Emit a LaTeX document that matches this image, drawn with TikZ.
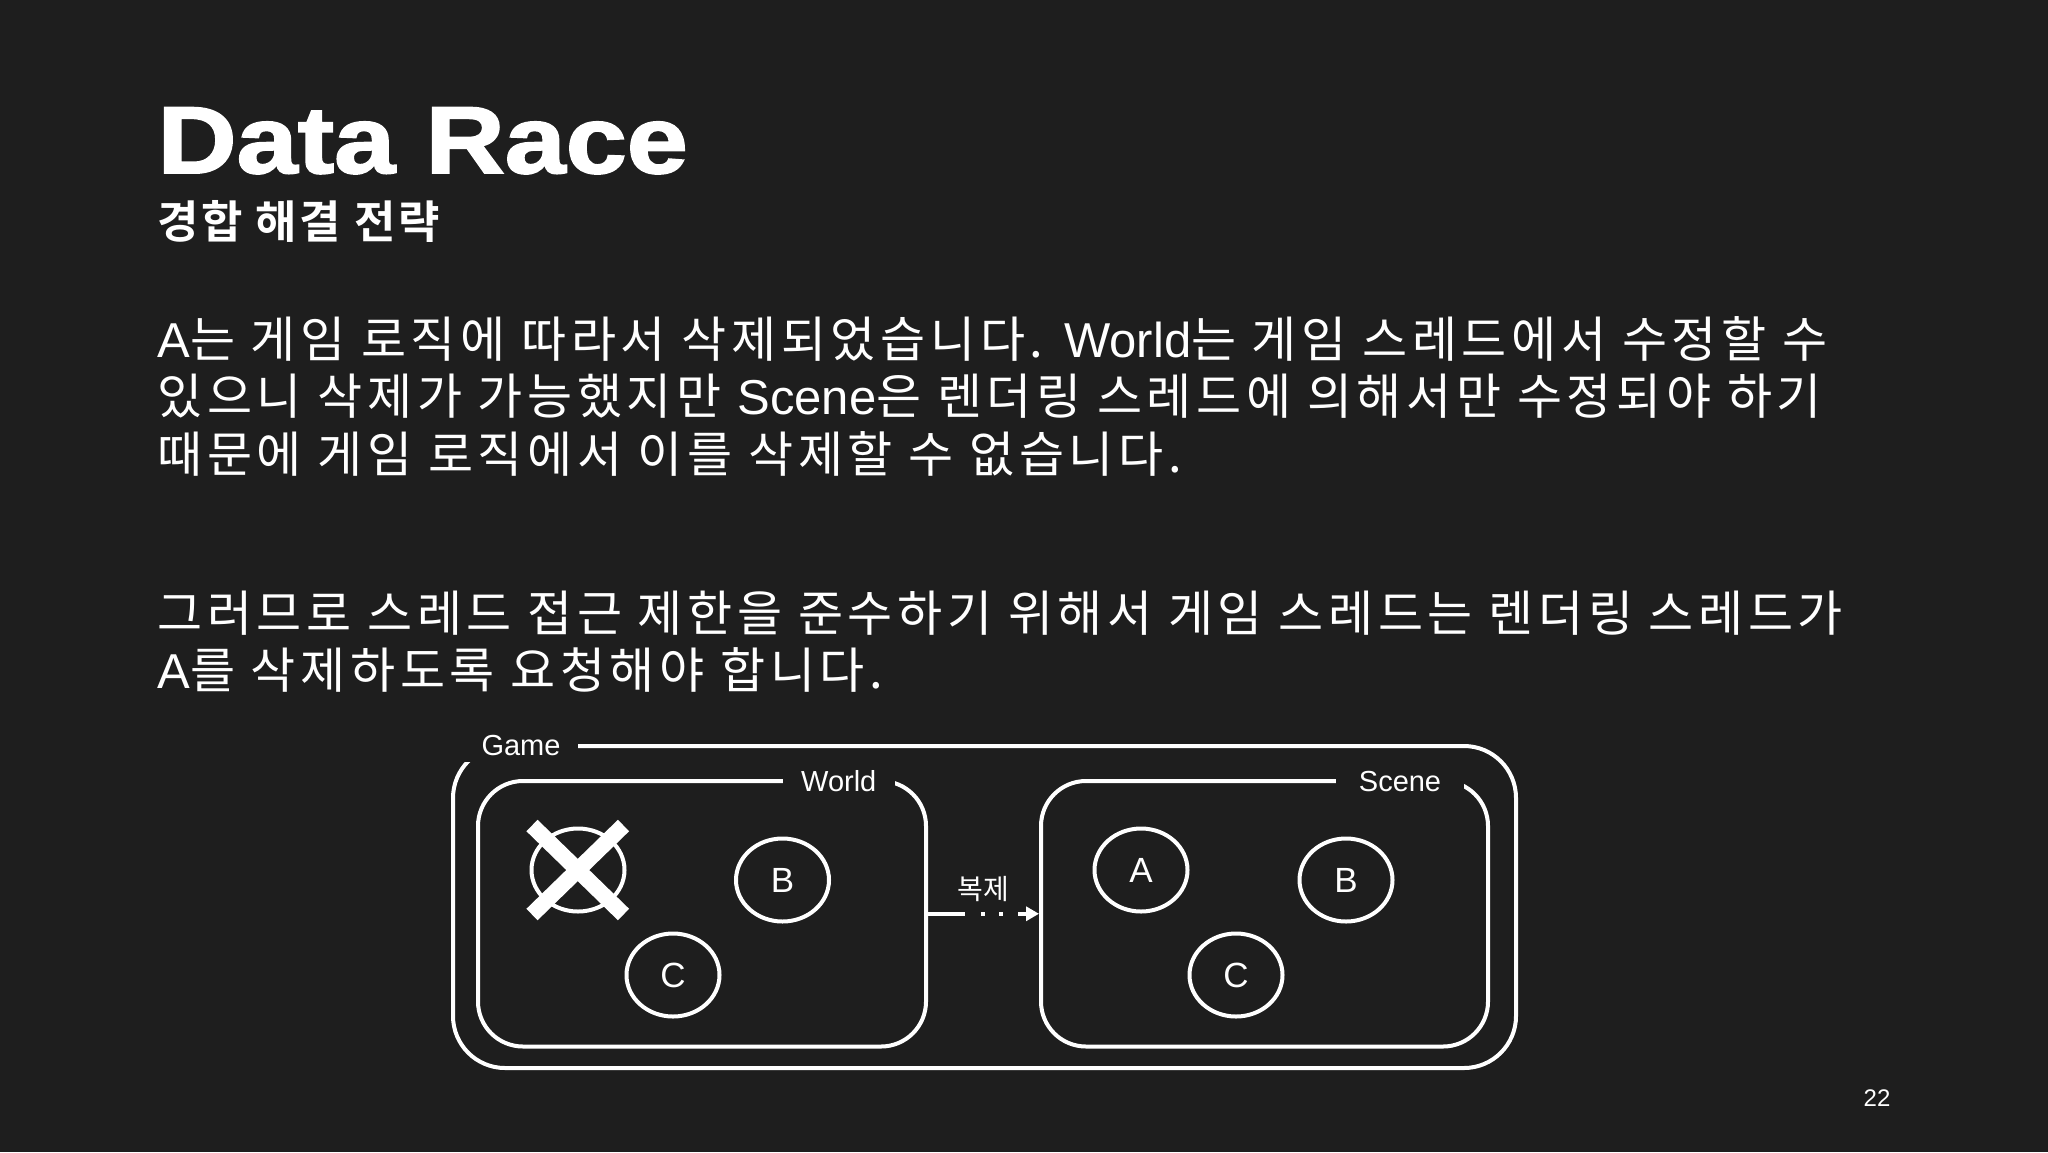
\documentclass[tikz,border=0pt]{standalone}
\usepackage{fontspec}
\setmainfont{Liberation Sans}
\newfontfamily\krfont{Noto Sans CJK KR}[LetterSpace=9.5,BoldFont={Noto Sans CJK KR Bold}]
\newfontfamily\krhead{Noto Sans CJK KR Bold}[LetterSpace=6]
\newfontfamily\krplain{Noto Sans CJK KR}
\newfontfamily\titlefont{Liberation Sans Bold}[FakeStretch=1.155,FakeBold=2]
\newcommand\eng[1]{{\rmfamily #1}}
\usetikzlibrary{shapes.geometric, arrows.meta, fit}

\definecolor{bg}{RGB}{30,30,30}
\definecolor{ink}{RGB}{255,255,255}

\tikzset{
  heading/.style   = {anchor=base west, inner sep=0, text=ink,
                      font=\titlefont\fontsize{47.5pt}{50pt}\selectfont},
  subhead/.style   = {anchor=base west, inner sep=0, text=ink,
                      font=\krhead\fontsize{22.5pt}{26pt}\selectfont},
  body/.style      = {anchor=base west, inner sep=0, text=ink,
                      font=\krfont\fontsize{24.5pt}{28.5pt}\selectfont},
  subbox/.style    = {draw=ink, line width=2pt, rounded corners=22.5pt, inner sep=0},
  gamebox/.style   = {subbox, rounded corners=26pt},
  tag/.style       = {fill=bg, text=ink, inner sep=0, minimum height=16pt,
                      font=\fontsize{14.5pt}{16pt}\selectfont},
  obj/.style       = {ellipse, draw=ink, line width=2pt, inner sep=0,
                      minimum width=46.5pt, minimum height=41.5pt, text=ink,
                      font=\fontsize{17.5pt}{20pt}\selectfont},
  xmark/.style     = {draw=ink, line width=8pt},
  copyarrow/.style = {draw=ink, line width=2pt, -{Triangle[length=6.5pt,width=7pt]},
                      dash pattern=on 18.5pt off 8pt on 2pt off 7pt on 2pt off 7.5pt on 20pt}
}

\begin{document}
\begin{tikzpicture}[x=0.5pt, y=-0.5pt]
  \fill[bg] (0,0) rectangle (2048,1152);

  \node[heading] (title) at (157,173) {Data Race};
  \node[subhead] (subtitle) at (157,238) {경합 해결 전략};

  % body text, one node per line
  \foreach \n/\yy/\txt in {
      1/357/{\eng{A}는 게임 로직에 따라서 삭제되었습니다. \eng{World}는 게임 스레드에서 수정할 수},
      2/414.5/{있으니 삭제가 가능했지만 \eng{Scene}은 렌더링 스레드에 의해서만 수정되야 하기},
      3/472/{때문에 게임 로직에서 이를 삭제할 수 없습니다.},
      4/631/{그러므로 스레드 접근 제한을 준수하기 위해서 게임 스레드는 렌더링 스레드가},
      5/688/{\eng{A}를 삭제하도록 요청해야 합니다.}}
    \node[body] (line\n) at (157,\yy) {\txt};

  % diagram
  \node[gamebox, fit={(453,746) (1516,1068)}] (game) {};
  \node[subbox, fit={(478,781) (926,1046.5)}] (world) {};
  \node[subbox, fit={(1041,781) (1488,1046.5)}] (scene) {};

  \node[tag, minimum width=57pt] (gametag) at (521,746) {Game};
  \node[tag, minimum width=56.25pt] (worldtag) at (838.75,781) {World};
  \node[tag, minimum width=64pt] (scenetag) at (1400,781) {Scene};

  \node[obj] (wa) at (578,870) {};
  \node[obj] (wb) at (782.5,880) {B};
  \node[obj] (wc) at (673,975) {C};
  \draw[xmark] ([shift={(-46,-44.5)}]wa.center) -- ([shift={(45.5,44.5)}]wa.center);
  \draw[xmark] ([shift={(-46,44.5)}]wa.center) -- ([shift={(45.5,-44.5)}]wa.center);

  \node[obj] (sa) at (1141,870) {A};
  \node[obj] (sb) at (1346,880) {B};
  \node[obj] (sc) at (1236,975) {C};

  \draw[copyarrow] (world.east) -- node[above=5pt, inner sep=0, text=ink,
      font=\krplain\fontsize{14pt}{16pt}\selectfont] (copylbl) {복제} (scene.west);

  \node[text=ink, font=\fontsize{12pt}{14pt}\selectfont] (pagenum) at (1877,1098) {22};
\end{tikzpicture}
\end{document}
